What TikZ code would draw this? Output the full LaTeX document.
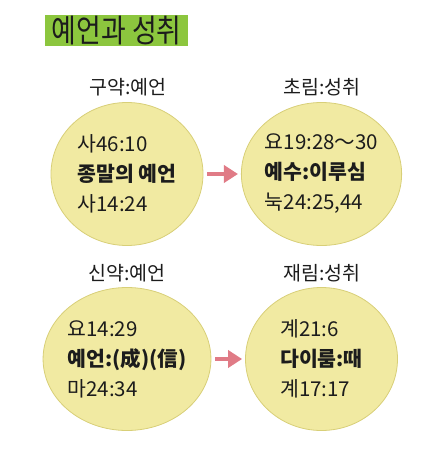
\documentclass[tikz,border=0pt]{standalone}
\usepackage{fontspec}
\setmainfont{Noto Sans CJK KR}
\newfontfamily\titlefont[FakeStretch=0.84]{Noto Sans CJK KR}
\usetikzlibrary{arrows.meta,shapes.geometric}
\definecolor{titlegreen}{HTML}{8CC63E}
\definecolor{ballfill}{HTML}{F1EAA2}
\definecolor{balledge}{HTML}{D8CF78}
\definecolor{arrowpink}{HTML}{E07B86}
\definecolor{inkdark}{HTML}{1C1C1C}

\begin{document}
\begin{tikzpicture}[x=1pt,y=-1pt,
  ball/.style={ellipse,draw=balledge,fill=ballfill,line width=0.8pt,
    minimum width=152pt,minimum height=143pt,inner sep=0pt,align=left,
    font=\fontsize{20.5}{30}\selectfont,text=inkdark},
  caption/.style={font=\fontsize{19.5}{21}\selectfont,text=inkdark},
  fulfil/.style={arrowpink,line width=4pt,-{Triangle[length=14pt,width=17pt]},
    shorten <=4pt,shorten >=3pt}]
%\draw[help lines] (0,0) grid[step=50pt] (437,457);
\useasboundingbox (0,0) rectangle (437,457);

% title
\node[fill=titlegreen,inner sep=0pt,minimum width=143pt,minimum height=31pt,
  anchor=north west,text=inkdark,font=\titlefont\fontsize{32}{32}\selectfont] (title) at (45,15) {예언과 성취};

% first row
\node[caption] (oldcap) at (128,87) {구약:예언};
\node[caption] (firstcap) at (322,87) {초림:성취};
\node[ball] (old) at (127,174) {사46:10\\{\bfseries 종말의 예언}\\사14:24};
\node[ball] (first) at (321.5,174) {요19:28～30\\{\bfseries 예수:이루심}\\눅24:25,44};
\draw[fulfil] (old.east) -- (first.west);

% second row
\node[caption] (newcap) at (127,273) {신약:예언};
\node[caption] (secondcap) at (322,273) {재림:성취};
\node[ball] (new) at (127,359) {요14:29\\{\bfseries 예언:(成)(信)}\\마24:34};
\node[ball] (second) at (321.5,359) {계21:6\\{\bfseries 다이룸:때}\\계17:17};
\draw[fulfil] (new.east) -- (second.west);
\end{tikzpicture}
\end{document}
